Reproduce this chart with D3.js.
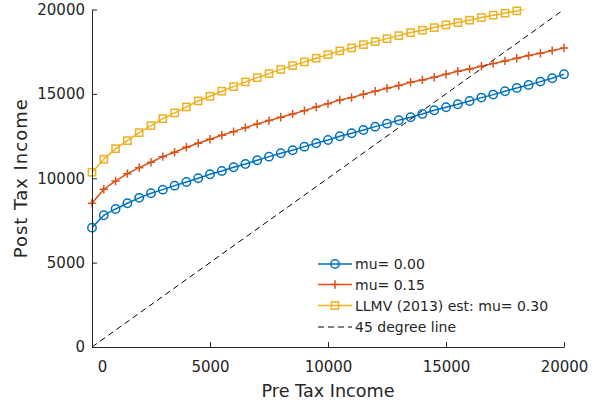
<!DOCTYPE html>
<html>
<head>
<meta charset="utf-8">
<script src="https://cdn.jsdelivr.net/npm/d3@7"></script>
<style>
  html, body { margin: 0; padding: 0; background: #fff; }
  svg { display: block; }
  text { font-family: "DejaVu Sans", sans-serif; fill: #262626; }
</style>
</head>
<body>
<svg id="chart" width="596" height="406"></svg>
<script>
// ---- data ----
const preTax = [0,500,1000,1500,2000,2500,3000,3500,4000,4500,5000,5500,6000,6500,7000,7500,8000,8500,9000,9500,10000,
  10500,11000,11500,12000,12500,13000,13500,14000,14500,15000,15500,16000,16500,17000,17500,18000,18500,19000,19500,20000];
const postMu000 = [7072,7807,8180,8518,8840,9111,9324,9561,9781,10000,10237,10433,10652,10848,11067,11280,11482,11660,11873,12075,12270,
  12490,12667,12863,13059,13236,13438,13616,13812,14031,14209,14386,14582,14778,14956,15157,15353,15531,15726,15928,16165];
const postMu015 = [8518,9348,9840,10273,10628,10948,11280,11541,11838,12075,12312,12549,12762,13000,13219,13415,13616,13812,14007,14226,14422,
  14641,14778,14979,15157,15335,15489,15691,15827,15987,16165,16343,16479,16639,16793,16953,17113,17268,17410,17564,17724];
const postMu030 = [10356,11126,11755,12229,12703,13118,13533,13871,14226,14582,14861,15157,15430,15708,15963,16200,16450,16675,16894,17113,17327,
  17546,17724,17919,18097,18275,18453,18631,18773,18927,19087,19224,19366,19520,19662,19781,19917,20080];
const diagX = [0, 20000];
const diagY = [0, 20000];
const xTicks = [0, 5000, 10000, 15000, 20000];
const yTicks = [0, 5000, 10000, 15000, 20000];
const seriesNames = ["mu= 0.00", "mu= 0.15", "LLMV (2013) est: mu= 0.30", "45 degree line"];
const xLabel = "Pre Tax Income";
const yLabel = "Post Tax Income";

// ---- layout ----
const svg = d3.select("#chart");
const L = 92, R = 564, T = 9.5, B = 347;
const x = d3.scaleLinear().domain([0, 20000]).range([L, R]);
const y = d3.scaleLinear().domain([0, 20000]).range([B, T]);
const axisColor = "#262626";
const colors = ["#0072BD", "#D95319", "#EDB120", "#000000"];

svg.append("defs").append("clipPath").attr("id", "plotclip")
  .append("rect").attr("x", L).attr("y", T).attr("width", R - L).attr("height", B - T);

const plot = svg.append("g").attr("clip-path", "url(#plotclip)");

const line = d3.line().x(d => x(d[0])).y(d => y(d[1]));
const series = [postMu000, postMu015, postMu030].map(vals => vals.map((v, i) => [preTax[i], v]));

function drawMarker(g, type, cx, cy, color) {
  if (type === 0) {
    g.append("circle").attr("cx", cx).attr("cy", cy).attr("r", 4.2)
      .attr("fill", "none").attr("stroke", color).attr("stroke-width", 1.5);
  } else if (type === 1) {
    g.append("path").attr("d", `M${cx-4.2},${cy}H${cx+4.2}M${cx},${cy-4.2}V${cy+4.2}`)
      .attr("stroke", color).attr("stroke-width", 1.5).attr("fill", "none");
  } else if (type === 2) {
    g.append("rect").attr("x", cx - 3.6).attr("y", cy - 3.6).attr("width", 7.2).attr("height", 7.2)
      .attr("fill", "none").attr("stroke", color).attr("stroke-width", 1.5);
  }
}

series.forEach((pts, si) => {
  plot.append("path").datum(pts).attr("d", line)
    .attr("fill", "none").attr("stroke", colors[si]).attr("stroke-width", 1.5);
  const mg = svg.append("g");
  pts.filter(p => p[1] <= 20000).forEach(p => drawMarker(mg, si, x(p[0]), y(p[1]), colors[si]));
});

// 45 degree line
plot.append("path").datum(diagX.map((v, i) => [v, diagY[i]])).attr("d", line)
  .attr("fill", "none").attr("stroke", "#000").attr("stroke-width", 1)
  .attr("stroke-dasharray", "6,4");

// ---- axes ----
const xAxis = svg.append("g").attr("transform", `translate(0,${B})`)
  .call(d3.axisBottom(x).tickValues(xTicks).tickFormat(d3.format("d")).tickSizeInner(-5).tickSizeOuter(0).tickPadding(14));
const yAxis = svg.append("g").attr("transform", `translate(${L},0)`)
  .call(d3.axisLeft(y).tickValues(yTicks).tickFormat(d3.format("d")).tickSizeInner(-5).tickSizeOuter(0).tickPadding(7));
[xAxis, yAxis].forEach(a => {
  a.select(".domain").attr("stroke", axisColor).attr("stroke-width", 1);
  a.selectAll(".tick line").attr("stroke", axisColor).attr("stroke-width", 1);
  a.selectAll(".tick text").attr("fill", axisColor).style("font-size", "15px").style("font-family", "DejaVu Sans");
});
// shift the first x label away from the y label, as the original does
xAxis.selectAll(".tick text").filter(d => d === 0).attr("dx", 10);

svg.append("text").attr("x", (L + R) / 2).attr("y", 397).attr("text-anchor", "middle")
  .style("font-size", "17.6px").text(xLabel);
svg.append("text").attr("transform", `translate(27,${(T + B) / 2}) rotate(-90)`).attr("text-anchor", "middle")
  .style("font-size", "18px").style("letter-spacing", "1px").text(yLabel);

// ---- legend ----
const lg = svg.append("g");
const rowY = [264, 284.5, 305.5, 327];
seriesNames.forEach((name, i) => {
  const ry = rowY[i];
  const l = lg.append("line").attr("x1", 318).attr("x2", 352).attr("y1", ry).attr("y2", ry)
    .attr("stroke", colors[i]).attr("stroke-width", i === 3 ? 1 : 1.5);
  if (i === 3) l.attr("stroke-dasharray", "6,4");
  else drawMarker(lg, i, 335, ry, colors[i]);
  lg.append("text").attr("x", 355).attr("y", ry).attr("dy", "0.36em")
    .style("font-size", "14px").text(name);
});
</script>
</body>
</html>
